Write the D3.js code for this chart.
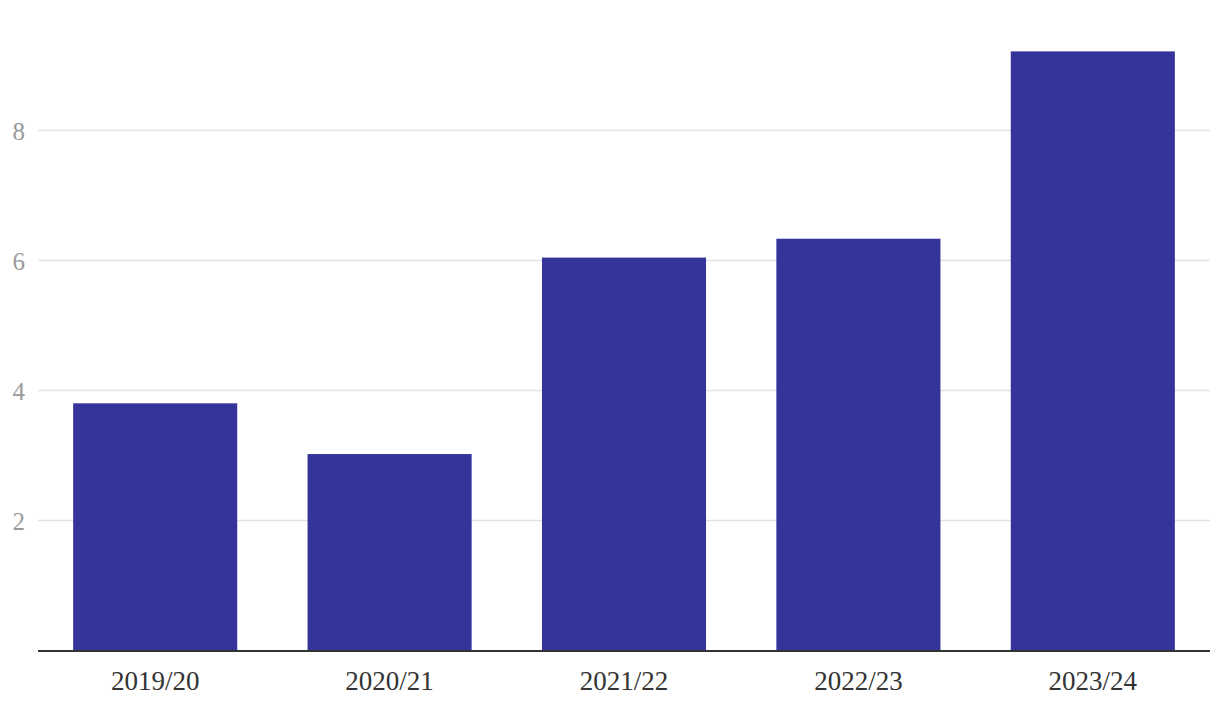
<!DOCTYPE html>
<html>
<head>
<meta charset="utf-8">
<script src="https://cdn.jsdelivr.net/npm/d3@7"></script>
<style>
  html, body { margin: 0; padding: 0; background: #fff; }
  svg { display: block; }
</style>
</head>
<body>
<svg id="chart" width="1220" height="710"></svg>
<script>
const categories = ["2019/20", "2020/21", "2021/22", "2022/23", "2023/24"];
const values = [3.8, 3.02, 6.04, 6.33, 9.21];
const yTicks = [2, 4, 6, 8];

const svg = d3.select("#chart");
const x = d3.scaleBand().domain(categories).range([38, 1210]).paddingInner(0.3).paddingOuter(0.15);
const y = d3.scaleLinear().domain([0, 10]).range([650.5, 0]);

// gridlines
svg.append("g").selectAll("line").data(yTicks).join("line")
  .attr("x1", 38).attr("x2", 1210)
  .attr("y1", d => Math.round(y(d)) + 0.5).attr("y2", d => Math.round(y(d)) + 0.5)
  .attr("stroke", "#e3e3e3").attr("stroke-width", 1.5);

// y labels
svg.append("g").selectAll("text").data(yTicks).join("text")
  .attr("x", 25).attr("y", d => y(d) + 1)
  .attr("text-anchor", "end").attr("dominant-baseline", "central")
  .attr("font-family", "Liberation Serif, serif").attr("font-size", 25)
  .attr("fill", "#9a9a9a").text(d => d);

// bars
svg.append("g").selectAll("rect").data(categories).join("rect")
  .attr("x", d => x(d)).attr("width", x.bandwidth())
  .attr("y", (d, i) => y(values[i])).attr("height", (d, i) => y(0) - y(values[i]))
  .attr("fill", "#34349a");

// x axis
const xAxis = svg.append("g").attr("transform", `translate(0,${y(0) + 0.5})`)
  .call(d3.axisBottom(x).tickSize(0).tickPadding(20));
xAxis.select(".domain").attr("stroke", "#333").attr("stroke-width", 2).attr("d", "M38,0H1210");
xAxis.selectAll("text").attr("font-family", "Liberation Serif, serif").attr("font-size", 27)
  .attr("fill", "#333");
</script>
</body>
</html>
